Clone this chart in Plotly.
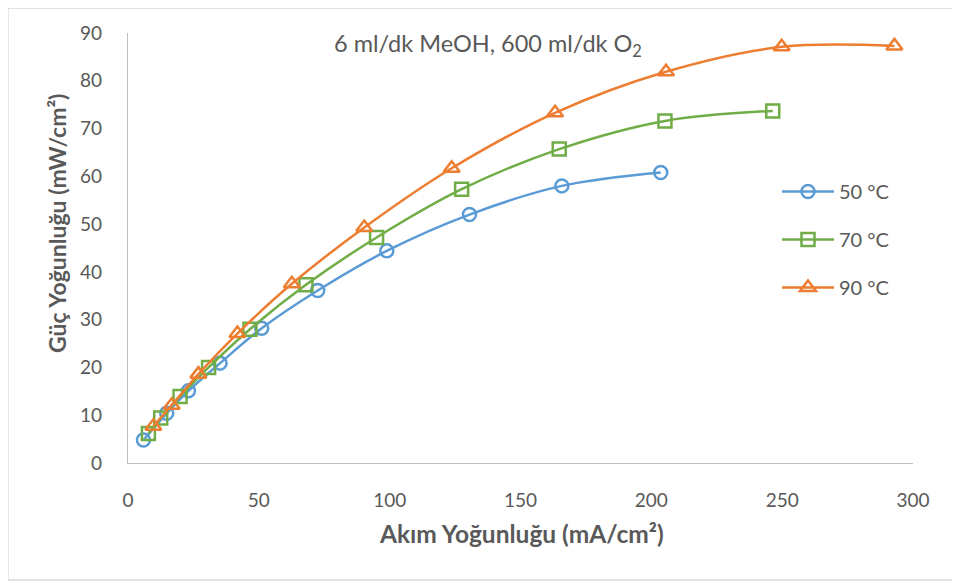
import plotly.graph_objects as go

# 50 °C
x50 = [5.9, 14.8, 23.1, 35.2, 51.1, 72.5, 98.9, 130.5, 165.8, 203.6]
y50 = [4.8, 10.4, 15.1, 20.9, 28.2, 36.1, 44.4, 52.0, 58.0, 60.8]
# 70 °C
x70 = [7.8, 12.5, 19.9, 30.8, 46.6, 68.0, 95.0, 127.5, 164.8, 205.2, 246.4]
y70 = [6.2, 9.4, 13.9, 20.0, 28.0, 37.3, 47.2, 57.3, 65.7, 71.6, 73.7]
# 90 °C
x90 = [9.7, 16.7, 26.9, 41.8, 62.6, 90.3, 123.7, 163.2, 205.6, 249.8, 292.9]
y90 = [7.7, 12.1, 18.6, 27.1, 37.5, 49.3, 61.7, 73.3, 81.9, 87.1, 87.3]

names = ["50 °C", "70 °C", "90 °C"]
colors = ["#5B9BD5", "#70AD47", "#ED7D31"]
symbols = ["circle-open", "square-open", "triangle-up-open"]

x_ticks = [0, 50, 100, 150, 200, 250, 300]
y_ticks = [0, 10, 20, 30, 40, 50, 60, 70, 80, 90]

FONT = "Lato"
TXT = "#595959"
OFF = 8  # page body margin offset

fig = go.Figure()
for i, (xs, ys) in enumerate([(x50, y50), (x70, y70), (x90, y90)]):
    fig.add_trace(go.Scatter(
        x=xs, y=ys, name=names[i], mode="lines+markers",
        line=dict(color=colors[i], width=2.5, shape="spline", smoothing=1.0),
        marker=dict(symbol=symbols[i], size=13 if i < 2 else 14,
                    color=colors[i], line=dict(width=2.5, color=colors[i])),
        legendgroup=f"g{i}",
    ))

W, H = 960 - OFF, 581 - OFF
L, T = 128 - OFF, 33 - OFF
R = W - (913 - OFF)
B = H - (463 - OFF)
pw, ph = W - L - R, H - T - B

def px2paper(xp, yp):
    # window pixel coords -> paper coords
    return (xp - OFF - L) / pw, (H - B - (yp - OFF)) / ph

x0, y0 = px2paper(OFF, 580)
x1, y1 = px2paper(956, OFF)

fig.update_layout(
    width=W, height=H,
    margin=dict(l=L, r=R, t=T, b=B),
    paper_bgcolor="white", plot_bgcolor="white",
    font=dict(family=FONT, size=19, color=TXT),
    showlegend=True,
    legend=dict(x=px2paper(777, 0)[0], y=px2paper(0, 172)[1], xanchor="left", yanchor="top",
                font=dict(size=20, color=TXT), tracegroupgap=19,
                traceorder="grouped", bgcolor="rgba(0,0,0,0)", itemwidth=52),
    xaxis=dict(range=[0, 300], tickvals=x_ticks, showgrid=False, zeroline=False,
               showline=True, linecolor="#BFBFBF", linewidth=1.3,
               ticks="outside", ticklen=20, tickcolor="rgba(0,0,0,0)",
               tickfont=dict(size=19, color=TXT), automargin=False),
    yaxis=dict(range=[0, 90], tickvals=y_ticks, showgrid=False, zeroline=False,
               showline=True, linecolor="#BFBFBF", linewidth=1.3,
               ticks="outside", ticklen=21, tickcolor="rgba(0,0,0,0)",
               tickfont=dict(size=19, color=TXT), automargin=False),
    shapes=[dict(type="rect", xref="paper", yref="paper", x0=x0, y0=y0, x1=x1, y1=y1,
                 line=dict(color="#D9D9D9", width=1.3), layer="below")],
    annotations=[
        dict(text="6 ml/dk MeOH, 600 ml/dk O<sub>2</sub>", xref="paper", yref="paper",
             x=px2paper(488, 0)[0], y=px2paper(0, 45)[1], xanchor="center", yanchor="middle",
             showarrow=False, font=dict(size=23.5, color=TXT)),
        dict(text="<b>Akım Yoğunluğu (mA/cm²)</b>", xref="paper", yref="paper",
             x=px2paper(521, 0)[0], y=px2paper(0, 533)[1], xanchor="center", yanchor="middle",
             showarrow=False, font=dict(size=24.5, color=TXT)),
        dict(text="<b>Güç Yoğunluğu (mW/cm²)</b>", xref="paper", yref="paper", textangle=-90,
             x=px2paper(57, 0)[0], y=px2paper(0, 224)[1], xanchor="center", yanchor="middle",
             showarrow=False, font=dict(size=23, color=TXT)),
    ],
)

fig.write_html("out.html")
